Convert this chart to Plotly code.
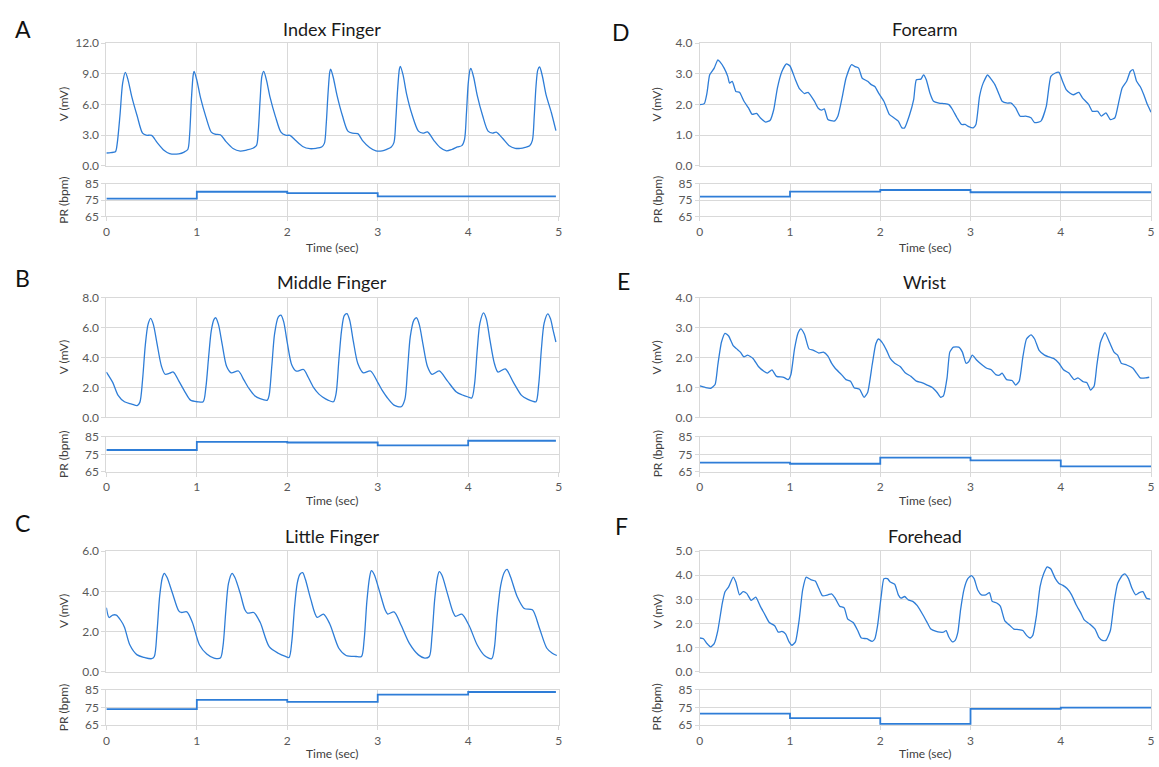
import plotly.graph_objects as go

# ---------------- data ----------------
time_ticks = [0, 1, 2, 3, 4, 5]
pr_ticks = [65, 75, 85]

index_pts = [(0.00,1.26),(0.05,1.30),(0.10,1.38),(0.12,2.2),(0.15,4.9),(0.18,8.1),(0.21,9.16),(0.24,8.4),(0.28,6.8),(0.34,4.9),(0.40,3.2),(0.44,3.0),(0.50,2.98),(0.56,2.3),(0.64,1.5),(0.70,1.2),(0.80,1.18),(0.86,1.35),(0.90,1.6),
             (0.92,3.0),(0.94,6.5),(0.96,8.9),(0.97,9.26),(1.00,8.4),(1.04,6.7),(1.10,4.8),(1.16,3.3),(1.20,3.1),(1.26,3.05),(1.32,2.4),(1.40,1.7),(1.48,1.45),(1.55,1.55),(1.62,1.72),(1.66,2.0),
             (1.68,3.5),(1.70,6.5),(1.72,8.8),(1.74,9.26),(1.77,8.4),(1.81,6.7),(1.87,4.8),(1.93,3.3),(1.98,3.0),(2.03,2.98),(2.09,2.5),(2.17,1.9),(2.25,1.68),(2.32,1.72),(2.38,1.85),(2.41,2.2),
             (2.43,4.0),(2.45,7.0),(2.47,9.2),(2.48,9.48),(2.51,8.6),(2.55,6.9),(2.61,4.9),(2.67,3.4),(2.72,3.2),(2.78,3.15),(2.83,2.5),(2.91,1.8),(2.98,1.47),(3.05,1.47),(3.10,1.62),(3.15,1.85),(3.18,2.3),
             (3.20,4.5),(3.22,7.5),(3.24,9.5),(3.25,9.74),(3.28,8.9),(3.32,7.0),(3.38,5.0),(3.45,3.4),(3.50,3.2),(3.55,3.32),(3.62,2.5),(3.69,1.8),(3.76,1.47),(3.82,1.6),(3.88,1.85),(3.93,1.98),(3.96,2.6),
             (3.98,5.0),(4.00,8.0),(4.02,9.4),(4.03,9.55),(4.06,8.7),(4.10,6.9),(4.16,4.9),(4.22,3.4),(4.27,3.2),(4.31,3.3),(4.38,2.7),(4.45,2.0),(4.52,1.72),(4.58,1.72),(4.63,1.82),(4.68,1.97),(4.71,2.5),
             (4.73,4.8),(4.75,7.8),(4.77,9.4),(4.79,9.68),(4.82,8.8),(4.86,7.0),(4.92,5.2),(4.97,3.45)]

middle_pts = [(0.00,3.03),(0.07,2.34),(0.13,1.47),(0.20,1.04),(0.28,0.89),(0.34,0.78),(0.37,1.0),(0.40,2.5),(0.43,4.8),(0.46,6.2),(0.49,6.62),(0.52,6.2),(0.56,4.93),(0.61,3.4),(0.65,2.88),(0.70,2.95),(0.74,3.03),(0.80,2.44),(0.87,1.69),(0.93,1.15),(1.01,1.04),(1.07,1.04),
              (1.10,2.0),(1.13,4.0),(1.16,5.8),(1.19,6.55),(1.21,6.66),(1.24,6.2),(1.28,4.9),(1.33,3.4),(1.38,2.98),(1.46,3.1),(1.52,2.5),(1.58,1.9),(1.64,1.45),(1.70,1.25),(1.78,1.15),
              (1.80,1.5),(1.83,3.5),(1.86,5.6),(1.90,6.7),(1.93,6.83),(1.96,6.4),(2.00,5.0),(2.05,3.5),(2.10,3.09),(2.18,3.2),(2.23,2.7),(2.29,2.0),(2.35,1.55),(2.39,1.36),(2.45,1.15),(2.51,1.04),
              (2.54,1.6),(2.57,3.8),(2.60,5.8),(2.63,6.8),(2.66,6.94),(2.69,6.5),(2.73,5.1),(2.78,3.6),(2.84,2.98),(2.92,3.1),(3.00,2.34),(3.05,1.8),(3.10,1.36),(3.18,0.82),(3.26,0.71),
              (3.30,1.2),(3.33,3.2),(3.36,5.4),(3.40,6.5),(3.43,6.66),(3.46,6.2),(3.50,4.9),(3.55,3.4),(3.60,2.88),(3.68,3.1),(3.77,2.44),(3.87,1.69),(3.93,1.51),(4.00,1.36),(4.04,1.3),
              (4.07,2.2),(4.10,4.5),(4.13,6.3),(4.17,6.98),(4.20,6.6),(4.24,5.2),(4.29,3.6),(4.33,3.03),(4.41,3.24),(4.50,2.34),(4.59,1.47),(4.66,1.2),(4.71,1.08),(4.75,1.04),
              (4.78,2.2),(4.81,4.6),(4.84,6.3),(4.88,6.92),(4.91,6.6),(4.94,5.8),(4.97,5.04)]

little_pts = [(0.00,3.19),(0.03,2.7),(0.07,2.82),(0.11,2.82),(0.16,2.55),(0.20,2.22),(0.26,1.33),(0.34,0.84),(0.42,0.71),(0.50,0.65),(0.53,0.76),(0.56,2.0),(0.59,3.8),(0.62,4.7),(0.64,4.9),(0.67,4.7),(0.73,3.92),(0.80,3.03),(0.83,2.95),(0.89,2.98),(0.95,2.46),(1.03,1.33),(1.11,0.88),(1.19,0.68),(1.26,0.68),
              (1.29,1.3),(1.32,3.0),(1.35,4.4),(1.39,4.9),(1.42,4.7),(1.48,3.9),(1.53,3.1),(1.56,2.92),(1.63,2.95),(1.70,2.46),(1.80,1.25),(1.90,0.92),(1.98,0.76),(2.02,0.71),
              (2.05,1.5),(2.08,3.2),(2.11,4.4),(2.14,4.85),(2.17,4.93),(2.20,4.6),(2.26,3.6),(2.33,2.71),(2.40,2.87),(2.47,2.38),(2.57,1.17),(2.65,0.81),(2.76,0.76),(2.82,0.76),
              (2.85,1.6),(2.88,3.5),(2.91,4.7),(2.93,5.03),(2.96,4.85),(3.02,4.0),(3.08,3.1),(3.11,2.87),(3.18,2.98),(3.26,2.3),(3.35,1.41),(3.45,0.84),(3.52,0.68),(3.57,0.76),
              (3.60,1.8),(3.63,3.6),(3.66,4.7),(3.68,4.98),(3.71,4.8),(3.77,3.9),(3.83,3.0),(3.86,2.76),(3.93,2.87),(4.01,2.3),(4.10,1.33),(4.18,0.81),(4.26,0.65),
              (4.29,1.2),(4.32,2.8),(4.36,4.3),(4.40,4.95),(4.43,5.09),(4.47,4.7),(4.54,3.76),(4.62,3.15),(4.71,3.08),(4.79,2.14),(4.87,1.17),(4.93,0.92),(4.98,0.81)]

forearm_pts = [(0.00,2.0),(0.05,2.03),(0.08,2.38),(0.11,2.97),(0.16,3.19),(0.20,3.46),(0.22,3.41),(0.27,3.19),(0.31,2.92),(0.33,2.70),(0.36,2.76),(0.40,2.43),(0.44,2.40),(0.49,2.11),(0.54,1.89),(0.58,1.68),(0.63,1.71),(0.67,1.57),(0.73,1.43),(0.78,1.49),
               (0.82,1.84),(0.86,2.54),(0.91,3.08),(0.96,3.33),(1.00,3.26),(1.06,2.81),(1.10,2.54),(1.16,2.36),(1.20,2.40),(1.27,2.11),(1.31,1.89),(1.35,1.82),(1.38,1.86),(1.42,1.51),(1.49,1.46),(1.53,1.62),
               (1.58,2.27),(1.62,2.86),(1.68,3.30),(1.72,3.24),(1.76,3.19),(1.80,2.86),(1.86,2.76),(1.90,2.65),(1.94,2.59),(1.98,2.38),(2.04,2.11),(2.10,1.68),(2.15,1.57),(2.20,1.46),(2.24,1.24),(2.27,1.24),
               (2.32,1.62),(2.37,2.16),(2.40,2.81),(2.45,2.83),(2.48,2.97),(2.51,2.81),(2.55,2.38),(2.59,2.11),(2.65,2.05),(2.71,2.03),(2.76,2.0),(2.80,1.84),(2.85,1.57),(2.90,1.35),(2.94,1.35),(2.98,1.28),(3.03,1.24),
               (3.06,1.35),(3.10,2.27),(3.14,2.70),(3.19,2.97),(3.22,2.86),(3.27,2.65),(3.31,2.38),(3.35,2.11),(3.41,2.05),(3.45,2.05),(3.50,1.89),(3.55,1.62),(3.61,1.62),(3.67,1.57),(3.71,1.41),(3.78,1.46),
               (3.84,1.95),(3.89,2.92),(3.94,3.03),(3.98,3.05),(4.02,2.76),(4.06,2.49),(4.10,2.38),(4.14,2.32),(4.20,2.40),(4.24,2.22),(4.31,2.0),(4.35,1.78),(4.41,1.78),(4.45,1.62),(4.50,1.73),(4.55,1.51),(4.60,1.57),
               (4.64,2.05),(4.68,2.54),(4.73,2.76),(4.77,3.08),(4.80,3.14),(4.84,2.76),(4.88,2.59),(4.92,2.32),(4.96,2.0),(5.00,1.75)]

wrist_pts = [(0.00,1.05),(0.06,1.0),(0.12,0.97),(0.17,1.10),(0.20,1.75),(0.24,2.51),(0.28,2.81),(0.32,2.72),(0.37,2.40),(0.41,2.29),(0.45,2.18),(0.49,2.02),(0.53,2.08),(0.59,1.97),(0.65,1.70),(0.71,1.54),(0.75,1.48),(0.80,1.59),(0.85,1.37),(0.93,1.34),(0.98,1.26),
             (1.01,1.43),(1.05,2.29),(1.09,2.83),(1.12,2.96),(1.16,2.78),(1.21,2.29),(1.26,2.24),(1.32,2.15),(1.37,2.18),(1.42,2.05),(1.46,1.81),(1.50,1.64),(1.57,1.43),(1.62,1.26),(1.67,1.21),(1.71,0.99),(1.77,0.94),(1.82,0.67),(1.86,0.83),
             (1.91,1.75),(1.95,2.45),(1.98,2.62),(2.02,2.51),(2.07,2.24),(2.11,1.97),(2.16,1.81),(2.22,1.70),(2.28,1.48),(2.34,1.37),(2.40,1.21),(2.46,1.16),(2.52,1.08),(2.58,0.99),(2.63,0.83),(2.67,0.67),(2.70,0.72),
             (2.74,1.32),(2.77,2.18),(2.81,2.35),(2.87,2.35),(2.91,2.18),(2.95,1.81),(2.98,1.86),(3.02,2.08),(3.07,1.91),(3.13,1.75),(3.18,1.64),(3.23,1.59),(3.28,1.43),(3.32,1.41),(3.35,1.48),(3.40,1.26),(3.46,1.23),(3.50,1.08),(3.54,1.21),
             (3.58,2.02),(3.62,2.62),(3.67,2.76),(3.71,2.62),(3.76,2.24),(3.82,2.08),(3.87,2.02),(3.92,1.97),(3.98,1.81),(4.03,1.59),(4.09,1.48),(4.15,1.26),(4.19,1.32),(4.25,1.19),(4.29,1.16),(4.33,0.91),(4.37,1.05),
             (4.40,1.75),(4.44,2.51),(4.49,2.83),(4.54,2.51),(4.59,2.18),(4.63,2.08),(4.67,1.81),(4.73,1.75),(4.80,1.64),(4.84,1.48),(4.88,1.32),(4.94,1.32),(4.98,1.34)]

forehead_pts = [(0.00,1.40),(0.04,1.37),(0.08,1.17),(0.12,1.03),(0.16,1.17),(0.20,1.71),(0.25,2.85),(0.28,3.32),(0.32,3.52),(0.37,3.92),(0.40,3.72),(0.44,3.19),(0.48,3.32),(0.52,3.25),(0.57,2.96),(0.62,3.09),(0.67,2.72),(0.72,2.38),(0.77,2.04),(0.83,1.91),(0.87,1.64),(0.91,1.67),(0.95,1.57),(0.99,1.24),(1.02,1.10),
                (1.06,1.24),(1.10,2.11),(1.14,3.39),(1.18,3.92),(1.23,3.82),(1.28,3.76),(1.32,3.45),(1.36,3.15),(1.42,3.19),(1.46,3.23),(1.50,3.05),(1.55,2.72),(1.60,2.65),(1.64,2.18),(1.70,2.04),(1.75,1.71),(1.79,1.40),(1.85,1.37),(1.91,1.26),(1.94,1.37),
                (1.97,1.91),(2.01,3.12),(2.04,3.86),(2.08,3.86),(2.11,3.72),(2.16,3.63),(2.20,3.19),(2.23,3.05),(2.27,3.12),(2.31,2.98),(2.36,2.92),(2.41,2.74),(2.48,2.31),(2.52,2.04),(2.56,1.77),(2.62,1.67),(2.66,1.64),(2.70,1.64),(2.73,1.71),(2.76,1.44),(2.80,1.24),(2.83,1.30),
                (2.86,1.64),(2.89,2.58),(2.93,3.45),(2.97,3.86),(3.01,3.99),(3.04,3.86),(3.08,3.39),(3.12,3.19),(3.17,3.19),(3.21,3.28),(3.24,2.92),(3.29,2.85),(3.33,2.72),(3.38,2.11),(3.43,1.94),(3.48,1.77),(3.53,1.75),(3.58,1.71),(3.62,1.51),(3.66,1.40),(3.69,1.51),
                (3.73,2.31),(3.77,3.52),(3.81,4.06),(3.85,4.35),(3.89,4.26),(3.94,3.86),(3.98,3.66),(4.02,3.59),(4.07,3.45),(4.12,3.19),(4.17,2.78),(4.22,2.45),(4.26,2.15),(4.32,1.98),(4.38,1.77),(4.42,1.44),(4.46,1.30),(4.50,1.30),
                (4.55,1.71),(4.59,2.85),(4.63,3.66),(4.68,3.99),(4.71,4.06),(4.75,3.86),(4.79,3.45),(4.83,3.19),(4.87,3.28),(4.91,3.32),(4.95,3.05),(4.99,3.01)]

pr_times = [0, 1, 2, 3, 4]
index_pr = [76.0, 80.2, 79.4, 77.4, 77.4]
middle_pr = [77.5, 82.2, 81.8, 80.1, 82.8]
little_pr = [74.1, 79.4, 78.2, 82.3, 83.8]
forearm_pr = [77.2, 80.3, 81.3, 79.9, 79.9]
wrist_pr = [70.2, 69.6, 73.1, 71.5, 68.1]
forehead_pr = [71.5, 69.0, 65.8, 74.3, 74.9]

titles = ["Index Finger", "Middle Finger", "Little Finger", "Forearm", "Wrist", "Forehead"]
letters = ["A", "B", "C", "D", "E", "F"]
v_max = [12, 8, 6, 4, 4, 5]
v_dtick = [3, 2, 2, 1, 1, 1]

# ---------------- layout geometry ----------------
W, H = 1159, 767
FONT = "Lato, Open Sans, sans-serif"
BLUE = "#2e7dd7"
GRID = "#d9d9d9"
TICKC = "#595959"

col_px = [(104, 559), (701, 1155)]
v_row_px = [(36, 161), (295.5, 417.5), (554, 677)]
pr_row_px = [(179.5, 212.5), (437.5, 473), (695.5, 731.5)]
letter_px = [(20, 21), (20, 275), (20, 525), (622, 24), (624, 278), (622, 528)]
title_py = [21, 279, 539]
time_py = [244.5, 502, 760]


def fx(p):
    return p / W


def fy(p):
    return 1 - p / H


panels = [
    (index_pts, index_pr, 0, 0, 4.97),
    (middle_pts, middle_pr, 0, 1, 4.97),
    (little_pts, little_pr, 0, 2, 4.97),
    (forearm_pts, forearm_pr, 1, 0, 5.0),
    (wrist_pts, wrist_pr, 1, 1, 5.0),
    (forehead_pts, forehead_pr, 1, 2, 5.0),
]

fig = go.Figure()
annotations = []
layout_axes = {}

for i, (pts, pr, col, row, tend) in enumerate(panels):
    nv = 2 * i + 1
    np_ = 2 * i + 2
    xs = [p[0] for p in pts]
    ys = [p[1] for p in pts]
    smooth = 0.8 if col == 0 else 0.5
    fig.add_trace(go.Scatter(x=xs, y=ys, mode="lines",
                             line=dict(color=BLUE, width=1.3, shape="spline", smoothing=smooth),
                             xaxis=f"x{nv}", yaxis=f"y{nv}", showlegend=False, hoverinfo="skip"))
    prx = list(pr_times) + [tend]
    pry = list(pr) + [pr[-1]]
    fig.add_trace(go.Scatter(x=prx, y=pry, mode="lines",
                             line=dict(color=BLUE, width=1.8, shape="hv"),
                             xaxis=f"x{np_}", yaxis=f"y{np_}", showlegend=False, hoverinfo="skip"))

    xd = [fx(col_px[col][0]), fx(col_px[col][1])]
    vy = [fy(v_row_px[row][1]), fy(v_row_px[row][0])]
    py_ = [fy(pr_row_px[row][1]), fy(pr_row_px[row][0])]

    common_x = dict(range=[0, 5], tickvals=time_ticks, showgrid=True, gridcolor=GRID, gridwidth=1,
                    showline=True, linecolor=GRID, linewidth=1, mirror=True, zeroline=False,
                    ticks="outside", ticklen=4, tickcolor=GRID, ticklabeloverflow="allow",
                    tickfont=dict(family=FONT, size=12, color=TICKC))
    layout_axes[f"xaxis{nv}"] = dict(common_x, domain=xd, anchor=f"y{nv}", showticklabels=False, ticks="")
    layout_axes[f"xaxis{np_}"] = dict(common_x, domain=xd, anchor=f"y{np_}", showticklabels=True)
    layout_axes[f"yaxis{nv}"] = dict(domain=vy, anchor=f"x{nv}", range=[0, v_max[i]], dtick=v_dtick[i],
                                     tick0=0, tickformat=".1f", showgrid=True, gridcolor=GRID,
                                     showline=True, linecolor=GRID, mirror=True, zeroline=False,
                                     ticks="outside", ticklen=4, tickcolor=GRID,
                                     tickfont=dict(family=FONT, size=12, color=TICKC))
    layout_axes[f"yaxis{np_}"] = dict(domain=py_, anchor=f"x{np_}", range=[65, 85], tickvals=pr_ticks,
                                      showgrid=True, gridcolor=GRID,
                                      showline=True, linecolor=GRID, mirror=True, zeroline=False,
                                      ticks="outside", ticklen=4, tickcolor=GRID,
                                      tickfont=dict(family=FONT, size=12, color=TICKC))

    cx = (col_px[col][0] + col_px[col][1]) / 2
    annotations.append(dict(text=titles[i], x=fx(cx), y=fy(title_py[row]), xref="paper", yref="paper",
                            xanchor="center", yanchor="middle", showarrow=False,
                            font=dict(family=FONT, size=18, color="#1a1a1a")))
    annotations.append(dict(text=letters[i], x=fx(letter_px[i][0]), y=fy(letter_px[i][1]), xref="paper", yref="paper",
                            xanchor="center", yanchor="middle", showarrow=False,
                            font=dict(family=FONT, size=23, color="#111111")))
    annotations.append(dict(text="Time (sec)", x=fx(cx), y=fy(time_py[row]), xref="paper", yref="paper",
                            xanchor="center", yanchor="middle", showarrow=False,
                            font=dict(family=FONT, size=12, color="#404040")))
    lx = col_px[col][0] - 43
    annotations.append(dict(text="V (mV)", x=fx(lx), y=fy((v_row_px[row][0] + v_row_px[row][1]) / 2),
                            xref="paper", yref="paper", xanchor="center", yanchor="middle", showarrow=False,
                            textangle=-90, font=dict(family=FONT, size=12, color="#404040")))
    annotations.append(dict(text="PR (bpm)", x=fx(lx), y=fy((pr_row_px[row][0] + pr_row_px[row][1]) / 2),
                            xref="paper", yref="paper", xanchor="center", yanchor="middle", showarrow=False,
                            textangle=-90, font=dict(family=FONT, size=12, color="#404040")))

fig.update_layout(width=W, height=H, margin=dict(l=0, r=0, t=0, b=0),
                  paper_bgcolor="white", plot_bgcolor="white",
                  annotations=annotations, **layout_axes)

# pin the graph to the page's top-left corner so it fills the window exactly
pin_js = ("document.documentElement.style.margin='0';document.documentElement.style.overflow='hidden';"
          "document.body.style.margin='0';document.body.style.padding='0';document.body.style.overflow='hidden';"
          "var gd=document.getElementById('{plot_id}');gd.style.position='fixed';"
          "gd.style.left='0px';gd.style.top='0px';")

fig.write_html("out.html", post_script=pin_js, config={"displayModeBar": False})
